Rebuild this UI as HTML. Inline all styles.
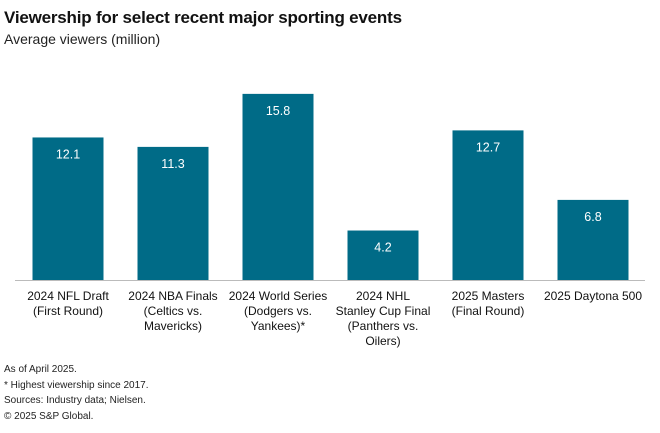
<!DOCTYPE html>
<html><head><meta charset="utf-8"><style>
body{margin:0;width:660px;height:433px;background:#fff;font-family:"Liberation Sans",sans-serif;color:#111;overflow:hidden;position:relative}
.t{position:absolute;left:4px;top:8px;font-size:17px;font-weight:bold;letter-spacing:-0.2px}
.s{position:absolute;left:4px;top:31px;font-size:14px;color:#222}
.f{position:absolute;left:4px;top:362px;font-size:10px;line-height:15.5px;color:#222}
</style></head><body>
<div class="t">Viewership for select recent major sporting events</div>
<div class="s">Average viewers (million)</div>
<svg id="c" width="660" height="433" style="position:absolute;left:0;top:0"></svg>
<div class="f">As of April 2025.<br>* Highest viewership since 2017.<br>Sources: Industry data; Nielsen.<br>© 2025 S&amp;P Global.</div>
<script>
const categories=[["2024 NFL Draft","(First Round)"],["2024 NBA Finals","(Celtics vs.","Mavericks)"],["2024 World Series","(Dodgers vs.","Yankees)*"],["2024 NHL","Stanley Cup Final","(Panthers vs.","Oilers)"],["2025 Masters","(Final Round)"],["2025 Daytona 500"]];
const values=[12.1,11.3,15.8,4.2,12.7,6.8];
const labels=["12.1","11.3","15.8","4.2","12.7","6.8"];
const NS="http://www.w3.org/2000/svg";
const svg=document.getElementById('c');
const base=280,scale=11.78,x0=15,step=105,bw=71;
const y=v=>base-v*scale;
const xc=i=>x0+step*i+step/2+0.5;
function mk(t,a){const e=document.createElementNS(NS,t);for(const k in a)e.setAttribute(k,a[k]);svg.appendChild(e);return e;}
values.forEach((v,i)=>{
 const r=mk('rect',{x:xc(i)-bw/2,y:y(v),width:bw,height:base-y(v),fill:'#006b87'});
 
 
 const t=mk('text',{x:xc(i),y:y(v)+21,'text-anchor':'middle','font-size':'12.5',fill:'#fff'});
 t.textContent=labels[i];
 
 
 categories[i].forEach((ln,j)=>{
  const c=mk('text',{x:xc(i),y:300+j*15,'text-anchor':'middle','font-size':'12',fill:'#111'});
  c.textContent=ln;
  
  
 });
});
const ax=mk('line',{x1:15,x2:645,y1:base+0.5,y2:base+0.5,stroke:'#bbb','stroke-width':1});


</script>
</body></html>
